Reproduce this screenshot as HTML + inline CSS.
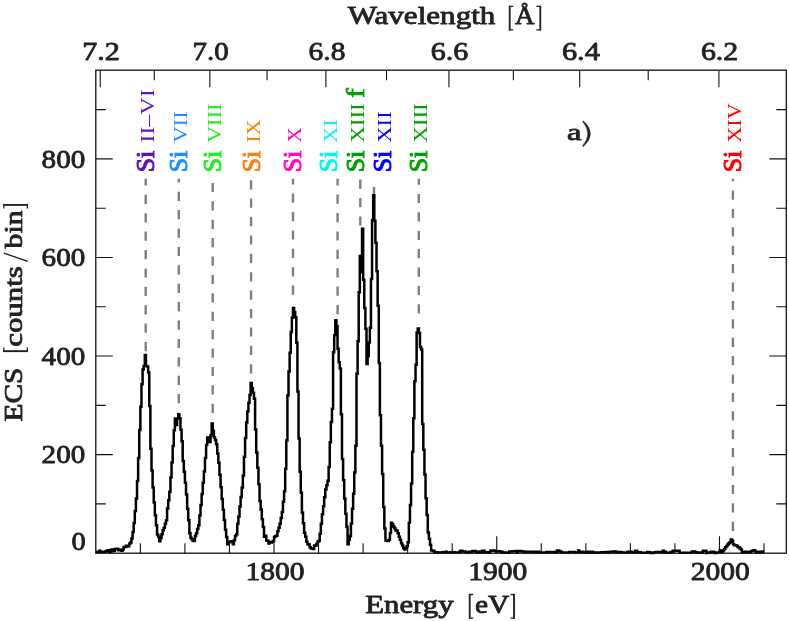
<!DOCTYPE html>
<html><head><meta charset="utf-8"><title>Si spectrum</title>
<style>html,body{margin:0;padding:0;background:#fff;}svg{display:block;will-change:transform;}</style>
</head><body>
<svg width="789" height="621" viewBox="0 0 789 621">
<rect width="789" height="621" fill="#fff"/>
<line x1="145.7" y1="351.2" x2="145.7" y2="178.7" stroke="#7f7f7f" stroke-width="2.4" stroke-dasharray="9.2 9.2"/>
<line x1="178.8" y1="403.3" x2="178.8" y2="178.7" stroke="#7f7f7f" stroke-width="2.4" stroke-dasharray="9.2 9.2"/>
<line x1="212.7" y1="412.9" x2="212.7" y2="178.7" stroke="#7f7f7f" stroke-width="2.4" stroke-dasharray="9.2 9.2"/>
<line x1="251.1" y1="373.4" x2="251.1" y2="178.7" stroke="#7f7f7f" stroke-width="2.4" stroke-dasharray="9.2 9.2"/>
<line x1="293.0" y1="294.8" x2="293.0" y2="178.7" stroke="#7f7f7f" stroke-width="2.4" stroke-dasharray="9.2 9.2"/>
<line x1="337.6" y1="314.2" x2="337.6" y2="178.7" stroke="#7f7f7f" stroke-width="2.4" stroke-dasharray="9.2 9.2"/>
<line x1="360.3" y1="225.6" x2="360.3" y2="178.7" stroke="#7f7f7f" stroke-width="2.4" stroke-dasharray="9.2 9.2"/>
<line x1="374.0" y1="196.2" x2="374.0" y2="178.7" stroke="#7f7f7f" stroke-width="2.4" stroke-dasharray="9.2 9.2"/>
<line x1="418.8" y1="313.5" x2="418.8" y2="178.7" stroke="#7f7f7f" stroke-width="2.4" stroke-dasharray="9.2 9.2"/>
<line x1="732.9" y1="530.9" x2="732.9" y2="178.7" stroke="#7f7f7f" stroke-width="2.4" stroke-dasharray="9.2 9.2"/>
<path d="M95.80 551.89H96.91V551.94H98.03V551.99H99.14V550.63H100.26V552.05H101.37V551.96H102.48V551.87H103.60V551.77H104.71V551.69H105.83V550.90H106.94V550.86H108.05V550.34H109.17V552.01H110.28V551.66H111.40V549.47H112.51V549.80H113.62V550.95H114.74V548.99H115.85V549.03H116.97V548.63H118.08V550.22H119.19V549.80H120.31V549.66H121.42V550.67H122.54V549.62H123.65V546.95H124.76V546.97H125.88V545.85H126.99V546.49H128.11V546.14H129.22V543.86H130.33V542.60H131.45V538.44H132.56V532.11H133.68V522.96H134.79V510.98H135.90V498.54H137.02V480.91H138.13V458.08H139.25V429.94H140.36V406.86H141.47V384.21H142.59V369.39H143.70V366.12H144.82V354.90H145.93V366.04H147.04V366.49H148.16V372.42H149.27V405.99H150.39V448.67H151.50V470.42H152.61V487.41H153.73V502.61H154.84V515.14H155.96V525.33H157.07V534.56H158.18V536.71H159.30V541.32H160.41V537.97H161.53V534.27H162.64V530.33H163.75V527.82H164.87V523.71H165.98V520.24H167.10V508.60H168.21V500.20H169.32V491.80H170.44V477.54H171.55V462.59H172.67V446.03H173.78V430.17H174.89V418.40H176.01V425.00H177.12V418.51H178.24V414.30H179.35V418.33H180.46V429.85H181.58V441.22H182.69V460.88H183.81V471.84H184.92V482.80H186.03V494.59H187.15V508.70H188.26V520.33H189.38V533.33H190.49V537.81H191.60V539.26H192.72V541.06H193.83V540.99H194.95V535.88H196.06V533.15H197.17V528.94H198.29V525.36H199.40V515.48H200.52V504.91H201.63V494.04H202.74V482.75H203.86V471.46H204.97V457.94H206.09V444.91H207.20V437.60H208.31V440.54H209.43V442.00H210.54V435.22H211.66V423.40H212.77V431.03H213.88V437.46H215.00V440.00H216.11V444.34H217.23V453.43H218.34V462.79H219.45V474.76H220.57V487.30H221.68V499.06H222.80V509.77H223.91V519.97H225.02V529.79H226.14V537.05H227.25V544.18H228.37V542.14H229.48V542.10H230.59V541.28H231.71V541.98H232.82V544.21H233.94V540.24H235.05V536.11H236.16V534.34H237.28V523.85H238.39V516.52H239.51V506.47H240.62V497.01H241.73V487.56H242.85V475.53H243.96V456.64H245.08V438.12H246.19V422.39H247.30V411.49H248.42V402.85H249.53V394.88H250.65V382.90H251.76V388.34H252.87V392.68H253.99V398.84H255.10V429.53H256.22V452.61H257.33V467.71H258.44V484.30H259.56V501.12H260.67V509.54H261.79V519.24H262.90V527.04H264.01V536.73H265.13V535.76H266.24V540.49H267.36V540.67H268.47V543.61H269.58V542.36H270.70V542.51H271.81V541.84H272.93V540.93H274.04V537.07H275.15V536.17H276.27V535.71H277.38V531.23H278.50V527.86H279.61V523.81H280.72V517.96H281.84V511.91H282.95V501.72H284.07V491.37H285.18V468.66H286.29V440.52H287.41V395.60H288.52V371.43H289.64V352.82H290.75V331.90H291.86V317.86H292.98V308.10H294.09V312.11H295.21V317.21H296.32V342.75H297.43V391.43H298.55V438.50H299.66V471.63H300.78V492.73H301.89V512.44H303.00V523.17H304.12V532.85H305.23V536.80H306.35V541.68H307.46V544.20H308.57V544.43H309.69V547.30H310.80V548.51H311.92V548.46H313.03V548.97H314.14V545.40H315.26V545.81H316.37V543.72H317.49V541.39H318.60V540.98H319.71V533.87H320.83V523.86H321.94V514.34H323.06V506.15H324.17V497.15H325.28V489.56H326.40V485.19H327.51V480.82H328.63V466.96H329.74V442.25H330.85V422.09H331.97V408.78H333.08V352.13H334.20V335.21H335.31V320.30H336.42V325.93H337.54V348.80H338.65V362.25H339.77V368.60H340.88V414.29H341.99V459.03H343.11V480.04H344.22V498.50H345.34V513.85H346.45V526.67H347.56V544.24H348.68V539.74H349.79V536.05H350.91V523.50H352.02V508.72H353.13V493.71H354.25V472.50H355.36V445.75H356.48V373.81H357.59V341.17H358.70V292.16H359.82V256.10H360.93V272.30H362.05V228.70H363.16V279.85H364.27V307.91H365.39V328.68H366.50V363.90H367.62V355.94H368.73V342.51H369.84V327.80H370.96V278.97H372.07V219.94H373.19V195.20H374.30V220.74H375.41V242.66H376.53V271.13H377.64V305.71H378.76V362.98H379.87V415.27H380.98V445.85H382.10V473.93H383.21V507.12H384.33V528.45H385.44V540.54H386.55V540.60H387.67V540.93H388.78V539.69H389.90V532.92H391.01V522.80H392.12V524.30H393.24V526.40H394.35V528.32H395.47V530.30H396.58V530.71H397.69V533.27H398.81V536.87H399.92V539.65H401.04V543.27H402.15V545.40H403.26V547.96H404.38V549.56H405.49V547.78H406.61V546.17H407.72V542.34H408.83V522.67H409.95V505.10H411.06V483.55H412.18V451.78H413.29V418.36H414.40V381.30H415.52V364.64H416.63V332.46H417.75V328.40H418.86V333.09H419.97V346.88H421.09V349.48H422.20V423.72H423.32V449.80H424.43V474.49H425.54V498.31H426.66V514.97H427.77V532.44H428.89V538.78H430.00V544.85H431.11V550.57H432.23V550.53H433.34V551.07H434.46V552.13H435.57V552.14H436.68V552.14H437.80V552.39H438.91V552.39H440.03V552.52H441.14V552.53H442.25V552.31H443.37V552.31H444.48V552.32H445.60V551.77H446.71V552.50H447.82V552.51H448.94V552.51H450.05V552.15H451.17V552.15H452.28V551.92H453.39V552.32H454.51V552.62H455.62V552.62H456.74V552.49H457.85V552.49H458.96V552.28H460.08V550.80H461.19V550.81H462.31V551.61H463.42V551.61H464.53V551.62H465.65V552.38H466.76V552.39H467.88V552.39H468.99V551.63H470.10V551.63H471.22V551.64H472.33V550.94H473.45V550.94H474.56V550.95H475.67V552.43H476.79V551.67H477.90V552.74H479.02V552.74H480.13V551.62H481.24V552.27H482.36V550.78H483.47V550.79H484.59V552.27H485.70V552.28H486.81V552.28H487.93V552.59H489.04V552.60H490.16V550.86H491.27V550.44H492.38V550.45H493.50V550.45H494.61V550.68H495.73V551.61H496.84V551.23H497.95V551.23H499.07V551.24H500.18V551.80H501.30V551.80H502.41V552.75H503.52V552.46H504.64V552.46H505.75V552.74H506.87V552.74H507.98V552.74H509.09V551.60H510.21V551.60H511.32V551.60H512.44V551.30H513.55V551.30H514.66V551.31H515.78V551.02H516.89V552.72H518.01V550.98H519.12V550.99H520.23V550.99H521.35V551.40H522.46V551.40H523.58V551.40H524.69V552.59H525.80V552.30H526.92V551.70H528.03V551.70H529.15V551.70H530.26V552.15H531.37V551.80H532.49V551.80H533.60V551.80H534.72V552.39H535.83V552.39H536.94V551.85H538.06V551.85H539.17V552.42H540.29V552.42H541.40V552.42H542.51V552.83H543.63V552.84H544.74V552.81H545.86V552.35H546.97V551.98H548.08V551.98H549.20V551.98H550.31V552.13H551.43V552.13H552.54V552.13H553.65V552.10H554.77V552.66H555.88V552.66H557.00V550.59H558.11V550.59H559.22V551.61H560.34V551.61H561.45V552.38H562.57V552.38H563.68V552.38H564.79V552.38H565.91V552.38H567.02V552.52H568.14V552.52H569.25V551.99H570.36V551.99H571.48V551.99H572.59V551.98H573.71V551.98H574.82V552.17H575.93V552.17H577.05V552.46H578.16V550.57H579.28V552.35H580.39V552.35H581.50V551.64H582.62V552.11H583.73V552.11H584.85V552.69H585.96V552.69H587.07V551.87H588.19V551.87H589.30V551.87H590.42V552.71H591.53V551.71H592.64V552.15H593.76V552.77H594.87V552.43H595.99V552.43H597.10V552.57H598.21V552.57H599.33V552.55H600.44V552.55H601.56V552.32H602.67V552.32H603.78V552.32H604.90V552.13H606.01V552.09H607.13V552.09H608.24V552.62H609.35V551.90H610.47V551.72H611.58V551.72H612.70V551.48H613.81V551.48H614.92V551.48H616.04V552.42H617.15V552.42H618.27V551.94H619.38V551.94H620.49V551.94H621.61V552.56H622.72V552.57H623.84V552.84H624.95V552.84H626.06V552.84H627.18V552.08H628.29V551.71H629.41V551.71H630.52V551.71H631.63V552.39H632.75V552.39H633.86V552.81H634.98V550.77H636.09V550.77H637.20V552.18H638.32V552.18H639.43V552.18H640.55V552.84H641.66V552.84H642.77V552.84H643.89V552.67H645.00V552.68H646.12V552.68H647.23V551.94H648.34V552.22H649.46V552.22H650.57V552.90H651.69V552.90H652.80V552.90H653.91V552.20H655.03V552.20H656.14V552.11H657.26V552.11H658.37V551.94H659.48V551.94H660.60V551.94H661.71V552.47H662.83V550.71H663.94V552.20H665.05V551.85H666.17V552.64H667.28V552.76H668.40V552.76H669.51V552.76H670.62V552.03H671.74V552.03H672.85V550.80H673.97V550.81H675.08V550.81H676.19V550.71H677.31V550.71H678.42V550.71H679.54V552.71H680.65V552.71H681.76V552.71H682.88V552.64H683.99V552.64H685.11V552.64H686.22V552.68H687.33V552.69H688.45V552.69H689.56V552.69H690.68V552.75H691.79V551.50H692.90V551.50H694.02V551.50H695.13V552.18H696.25V552.18H697.36V552.72H698.47V552.72H699.59V552.72H700.70V552.49H701.82V552.49H702.93V550.74H704.04V550.75H705.16V550.75H706.27V552.88H707.39V552.38H708.50V552.38H709.61V552.39H710.73V551.76H711.84V551.76H712.96V551.79H714.07V552.93H715.18V552.93H716.30V552.39H717.41V552.40H718.53V552.40H719.64V550.45H720.75V551.94H721.87V552.02H722.98V550.59H724.10V549.02H725.21V547.28H726.32V545.93H727.44V544.51H728.55V543.22H729.67V542.24H730.78V539.57H731.89V540.70H733.01V544.16H734.12V545.19H735.24V545.19H736.35V545.83H737.46V547.00H738.58V547.14H739.69V548.47H740.81V549.54H741.92V552.04H743.03V552.12H744.15V552.43H745.26V551.80H746.38V551.88H747.49V551.96H748.60V552.46H749.72V552.52H750.83V551.26H751.95V550.75H753.06V550.47H754.17V550.20H755.29V551.52H756.40V552.13H757.52V552.63H758.63V552.69H759.74V551.66H760.86V551.68H761.97V551.53H763.09V551.55H764.20" fill="none" stroke="#000" stroke-width="2.5" stroke-linejoin="miter"/>
<path d="M140.35 553.20 v-10.00M184.90 553.20 v-10.00M229.45 553.20 v-10.00M273.99 553.20 v-17.00M318.54 553.20 v-10.00M363.09 553.20 v-10.00M407.64 553.20 v-10.00M452.19 553.20 v-10.00M496.74 553.20 v-17.00M541.28 553.20 v-10.00M585.83 553.20 v-10.00M630.38 553.20 v-10.00M674.93 553.20 v-10.00M719.48 553.20 v-17.00M764.03 553.20 v-10.00M718.91 70.20 v17.00M648.21 70.20 v10.00M579.71 70.20 v17.00M513.33 70.20 v10.00M448.95 70.20 v17.00M386.50 70.20 v10.00M325.89 70.20 v17.00M267.03 70.20 v10.00M209.85 70.20 v17.00M154.28 70.20 v10.00M100.26 70.20 v17.00M95.80 503.91 h10.00M786.30 503.91 h-10.00M95.80 454.63 h17.00M786.30 454.63 h-17.00M95.80 405.34 h10.00M786.30 405.34 h-10.00M95.80 356.06 h17.00M786.30 356.06 h-17.00M95.80 306.77 h10.00M786.30 306.77 h-10.00M95.80 257.49 h17.00M786.30 257.49 h-17.00M95.80 208.20 h10.00M786.30 208.20 h-10.00M95.80 158.91 h17.00M786.30 158.91 h-17.00M95.80 109.63 h10.00M786.30 109.63 h-10.00" stroke="#111" stroke-width="1.1" fill="none"/>
<rect x="95.80" y="70.20" width="690.50" height="483.00" fill="none" stroke="#111" stroke-width="1.3"/>
<g font-family="'Liberation Serif', serif" fill="#222" stroke="#222" stroke-width="0.8" stroke-linejoin="round">
<text x="347.7" y="24.4" font-size="24.2" textLength="147.7" lengthAdjust="spacingAndGlyphs" >Wavelength</text>
<path d="M513.30 6.30 H509.65 V29.90 H513.30" fill="none" stroke="#222" stroke-width="1.30"/>
<path d="M509.65 5.70 V30.50" fill="none" stroke="#222" stroke-width="1.70"/>
<text x="515.0" y="24.4" font-size="24.2" textLength="19.6" lengthAdjust="spacingAndGlyphs" >Å</text>
<path d="M536.30 6.30 H540.35 V29.90 H536.30" fill="none" stroke="#222" stroke-width="1.30"/>
<path d="M540.35 5.70 V30.50" fill="none" stroke="#222" stroke-width="1.70"/>
<text x="82.2" y="60.1" font-size="25.2" textLength="37.7" lengthAdjust="spacingAndGlyphs" >7.2</text>
<text x="192.6" y="60.1" font-size="25.2" textLength="36.2" lengthAdjust="spacingAndGlyphs" >7.0</text>
<text x="308.6" y="60.1" font-size="25.2" textLength="36.8" lengthAdjust="spacingAndGlyphs" >6.8</text>
<text x="430.7" y="60.1" font-size="25.2" textLength="37.5" lengthAdjust="spacingAndGlyphs" >6.6</text>
<text x="561.9" y="60.1" font-size="25.2" textLength="37.9" lengthAdjust="spacingAndGlyphs" >6.4</text>
<text x="700.9" y="60.1" font-size="25.2" textLength="37.4" lengthAdjust="spacingAndGlyphs" >6.2</text>
<text x="245.5" y="580.4" font-size="25.2" textLength="59.1" lengthAdjust="spacingAndGlyphs" >1800</text>
<text x="468.2" y="580.4" font-size="25.2" textLength="59.1" lengthAdjust="spacingAndGlyphs" >1900</text>
<text x="690.8" y="580.4" font-size="25.2" textLength="59.1" lengthAdjust="spacingAndGlyphs" >2000</text>
<text x="365.2" y="612.6" font-size="24.2" textLength="88.5" lengthAdjust="spacingAndGlyphs" >Energy</text>
<path d="M473.20 594.50 H469.65 V618.10 H473.20" fill="none" stroke="#222" stroke-width="1.30"/>
<path d="M469.65 593.90 V618.70" fill="none" stroke="#222" stroke-width="1.70"/>
<text x="475.0" y="612.6" font-size="24.2" textLength="34.3" lengthAdjust="spacingAndGlyphs" >eV</text>
<path d="M510.50 594.50 H514.05 V618.10 H510.50" fill="none" stroke="#222" stroke-width="1.30"/>
<path d="M514.05 593.90 V618.70" fill="none" stroke="#222" stroke-width="1.70"/>
<text x="41.6" y="167.6" font-size="25.2" textLength="43.6" lengthAdjust="spacingAndGlyphs" >800</text>
<text x="41.6" y="266.2" font-size="25.2" textLength="43.6" lengthAdjust="spacingAndGlyphs" >600</text>
<text x="41.6" y="364.8" font-size="25.2" textLength="43.6" lengthAdjust="spacingAndGlyphs" >400</text>
<text x="41.6" y="463.3" font-size="25.2" textLength="43.6" lengthAdjust="spacingAndGlyphs" >200</text>
<text x="71.5" y="550.0" font-size="25.2" textLength="14.2" lengthAdjust="spacingAndGlyphs" >0</text>
<text x="566.9" y="140.1" font-size="23.2" textLength="14.5" lengthAdjust="spacingAndGlyphs" >a</text>
<path d="M583.3 120.8 Q597.6 133.7 583.3 146.7 L582.5 146.0 Q592.8 133.7 582.5 121.5 Z" stroke-width="0.4"/>
<g transform="translate(21.9 0) rotate(-90)">
<text x="-421.6" y="0.0" font-size="24.2" textLength="54.0" lengthAdjust="spacingAndGlyphs" >ECS</text>
<path d="M-347.60 -18.10 H-351.25 V5.50 H-347.60" fill="none" stroke="#222" stroke-width="1.30"/>
<path d="M-351.25 -18.70 V6.10" fill="none" stroke="#222" stroke-width="1.70"/>
<text x="-346.8" y="0.0" font-size="24.2" textLength="80.6" lengthAdjust="spacingAndGlyphs" >counts</text>
<path d="M-261.4 5.8 L-253.1 -18" stroke="#222" stroke-width="1.4" fill="none"/>
<text x="-248.4" y="0.0" font-size="24.2" textLength="37.9" lengthAdjust="spacingAndGlyphs" >bin</text>
<path d="M-208.50 -18.10 H-204.85 V5.50 H-208.50" fill="none" stroke="#222" stroke-width="1.30"/>
<path d="M-204.85 -18.70 V6.10" fill="none" stroke="#222" stroke-width="1.70"/>
</g>
</g>
<g transform="translate(154.3 172.3) rotate(-90)" fill="#5c12b8" stroke="#5c12b8" font-family="'Liberation Serif', serif">
<text x="0" y="0" font-size="24.2" stroke-width="1.0" textLength="21.4" lengthAdjust="spacingAndGlyphs">Si</text>
<text x="29.5" y="0" font-size="18.4" stroke="none" textLength="53.5" lengthAdjust="spacingAndGlyphs">II–VI</text>
</g>
<g transform="translate(187.1 172.3) rotate(-90)" fill="#1e8fff" stroke="#1e8fff" font-family="'Liberation Serif', serif">
<text x="0" y="0" font-size="24.2" stroke-width="1.0" textLength="21.4" lengthAdjust="spacingAndGlyphs">Si</text>
<text x="29.5" y="0" font-size="18.4" stroke="none" textLength="31.5" lengthAdjust="spacingAndGlyphs">VII</text>
</g>
<g transform="translate(220.8 172.3) rotate(-90)" fill="#22ee22" stroke="#22ee22" font-family="'Liberation Serif', serif">
<text x="0" y="0" font-size="24.2" stroke-width="1.0" textLength="21.4" lengthAdjust="spacingAndGlyphs">Si</text>
<text x="29.5" y="0" font-size="18.4" stroke="none" textLength="39.5" lengthAdjust="spacingAndGlyphs">VIII</text>
</g>
<g transform="translate(259.6 172.3) rotate(-90)" fill="#ff8010" stroke="#ff8010" font-family="'Liberation Serif', serif">
<text x="0" y="0" font-size="24.2" stroke-width="1.0" textLength="21.4" lengthAdjust="spacingAndGlyphs">Si</text>
<text x="29.5" y="0" font-size="18.4" stroke="none" textLength="23.5" lengthAdjust="spacingAndGlyphs">IX</text>
</g>
<g transform="translate(301.2 172.3) rotate(-90)" fill="#ff08c8" stroke="#ff08c8" font-family="'Liberation Serif', serif">
<text x="0" y="0" font-size="24.2" stroke-width="1.0" textLength="21.4" lengthAdjust="spacingAndGlyphs">Si</text>
<text x="29.5" y="0" font-size="18.4" stroke="none" textLength="15.5" lengthAdjust="spacingAndGlyphs">X</text>
</g>
<g transform="translate(336.7 172.3) rotate(-90)" fill="#00f6f6" stroke="#00f6f6" font-family="'Liberation Serif', serif">
<text x="0" y="0" font-size="24.2" stroke-width="1.0" textLength="21.4" lengthAdjust="spacingAndGlyphs">Si</text>
<text x="29.5" y="0" font-size="18.4" stroke="none" textLength="23.5" lengthAdjust="spacingAndGlyphs">XI</text>
</g>
<g transform="translate(363.8 172.3) rotate(-90)" fill="#00a000" stroke="#00a000" font-family="'Liberation Serif', serif">
<text x="0" y="0" font-size="24.2" stroke-width="1.0" textLength="21.4" lengthAdjust="spacingAndGlyphs">Si</text>
<text x="29.5" y="0" font-size="18.4" stroke="none" textLength="39.5" lengthAdjust="spacingAndGlyphs">XIII</text>
<text x="74.3" y="0" font-size="24.2" stroke-width="0.8" textLength="9.7" lengthAdjust="spacingAndGlyphs">f</text>
</g>
<g transform="translate(391.3 172.3) rotate(-90)" fill="#0000ff" stroke="#0000ff" font-family="'Liberation Serif', serif">
<text x="0" y="0" font-size="24.2" stroke-width="1.0" textLength="21.4" lengthAdjust="spacingAndGlyphs">Si</text>
<text x="29.5" y="0" font-size="18.4" stroke="none" textLength="31.5" lengthAdjust="spacingAndGlyphs">XII</text>
</g>
<g transform="translate(427.1 172.3) rotate(-90)" fill="#00a000" stroke="#00a000" font-family="'Liberation Serif', serif">
<text x="0" y="0" font-size="24.2" stroke-width="1.0" textLength="21.4" lengthAdjust="spacingAndGlyphs">Si</text>
<text x="29.5" y="0" font-size="18.4" stroke="none" textLength="39.5" lengthAdjust="spacingAndGlyphs">XIII</text>
</g>
<g transform="translate(741.2 172.3) rotate(-90)" fill="#ff0000" stroke="#ff0000" font-family="'Liberation Serif', serif">
<text x="0" y="0" font-size="24.2" stroke-width="1.0" textLength="21.4" lengthAdjust="spacingAndGlyphs">Si</text>
<text x="29.5" y="0" font-size="18.4" stroke="none" textLength="39.5" lengthAdjust="spacingAndGlyphs">XIV</text>
</g>
</svg>
</body></html>
